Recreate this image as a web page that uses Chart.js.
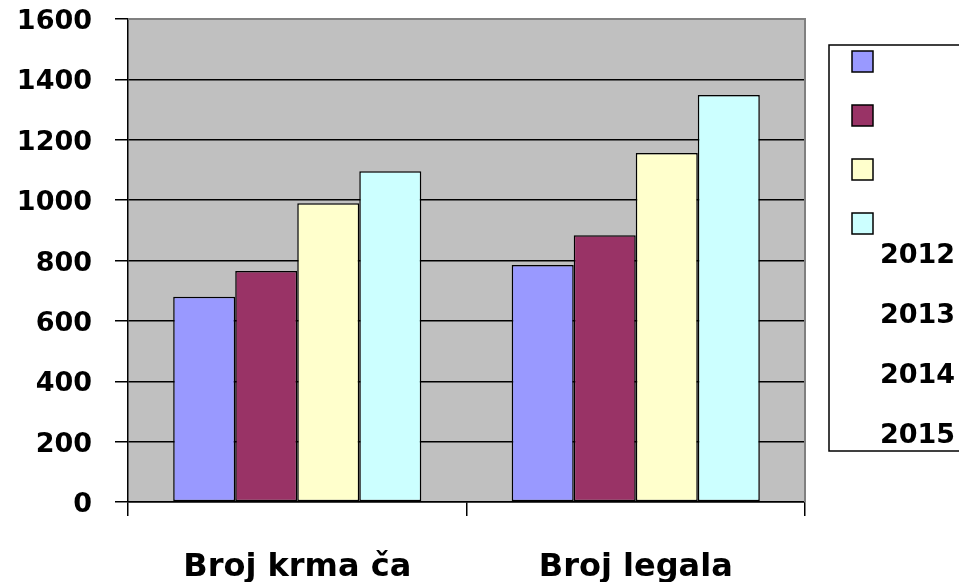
<!DOCTYPE html>
<html>
<head>
<meta charset="utf-8">
<script src="https://cdn.jsdelivr.net/npm/chart.js@4/dist/chart.umd.min.js"></script>
<style>
  html, body { margin: 0; padding: 0; background: #fff; }
  canvas { display: block; }
</style>
</head>
<body>
<canvas id="myChart" width="959" height="582"></canvas>
<script>
var categories = ['Broj krma ča', 'Broj legala'];
var years = ['2012', '2013', '2014', '2015'];
var v2012 = [680, 785];
var v2013 = [765, 884];
var v2014 = [990, 1156];
var v2015 = [1096, 1348];
var yTicks = [0, 200, 400, 600, 800, 1000, 1200, 1400, 1600];

var colors = ['#9999FF', '#993366', '#FFFFCC', '#CCFFFF'];
var FONT = "'DejaVu Sans', sans-serif";

// gray plot area with a thin gray frame
var plotBg = {
    id: 'plotBg',
    beforeDraw: function(chart) {
        var a = chart.chartArea, ctx = chart.ctx;
        ctx.save();
        ctx.fillStyle = '#C0C0C0';
        ctx.fillRect(a.left, a.top, a.right - a.left, a.bottom - a.top);
        ctx.restore();
    },
    beforeDatasetsDraw: function(chart) {
        var a = chart.chartArea, ctx = chart.ctx;
        ctx.save();
        ctx.strokeStyle = '#808080';
        ctx.lineWidth = 2;
        ctx.beginPath();
        ctx.moveTo(a.left, a.top);
        ctx.lineTo(a.right, a.top);
        ctx.lineTo(a.right, a.bottom);
        ctx.stroke();
        ctx.restore();
    }
};

// excel-style legend box on the right
var boxLegend = {
    id: 'boxLegend',
    afterDraw: function(chart) {
        var ctx = chart.ctx;
        ctx.save();
        ctx.strokeStyle = '#000';
        ctx.lineWidth = 1.5;
        ctx.strokeRect(829, 45, 140, 406);
        chart.data.datasets.forEach(function(ds, i) {
            var sy = 51 + i * 54;
            ctx.fillStyle = ds.backgroundColor;
            ctx.fillRect(852, sy, 21, 21);
            ctx.strokeStyle = '#000';
            ctx.lineWidth = 1.5;
            ctx.strokeRect(852, sy, 21, 21);
        });
        ctx.fillStyle = '#000';
        ctx.font = 'bold 27px ' + FONT;
        ctx.textAlign = 'left';
        ctx.textBaseline = 'middle';
        chart.data.datasets.forEach(function(ds, i) {
            ctx.fillText(ds.label, 880, 256 + i * 60);
        });
        ctx.restore();
    }
};

var datasets = [v2012, v2013, v2014, v2015].map(function(vals, i) {
    return {
        label: years[i],
        data: vals,
        backgroundColor: colors[i],
        borderColor: '#000',
        borderWidth: 1.5,
        borderSkipped: false,
        categoryPercentage: 0.733,
        barPercentage: 1.0
    };
});

var ctx = document.getElementById('myChart').getContext('2d');
var myChart = new Chart(ctx, {
    type: 'bar',
    data: { labels: categories, datasets: datasets },
    plugins: [plotBg, boxLegend],
    options: {
        responsive: false,
        animation: false,
        layout: { padding: { left: 0, top: 19, right: 154, bottom: 0 } },
        plugins: { legend: { display: false }, tooltip: { enabled: false } },
        scales: {
            x: {
                afterFit: function(s) { s.height = 80; s.paddingLeft = 0; s.paddingRight = 0; },
                border: { color: '#000', width: 1.5 },
                grid: { offset: true, drawOnChartArea: false, color: '#000', lineWidth: 1.5, tickLength: 14 },
                ticks: { color: '#000', font: { family: FONT, size: 32, weight: 'bold' }, padding: 32, maxRotation: 0 }
            },
            y: {
                min: 0,
                max: 1600,
                afterFit: function(s) { s.width = 128; s.paddingTop = 0; s.paddingBottom = 0; },
                afterBuildTicks: function(s) { s.ticks = yTicks.map(function(v) { return { value: v }; }); },
                border: { color: '#000', width: 1.5 },
                grid: { color: '#000', lineWidth: 1.5, tickLength: 13 },
                ticks: {
                    color: '#000',
                    font: { family: FONT, size: 27, weight: 'bold' },
                    padding: 23,
                    labelOffset: 3,
                    callback: function(v) { return String(v); }
                }
            }
        }
    }
});
</script>
</body>
</html>
